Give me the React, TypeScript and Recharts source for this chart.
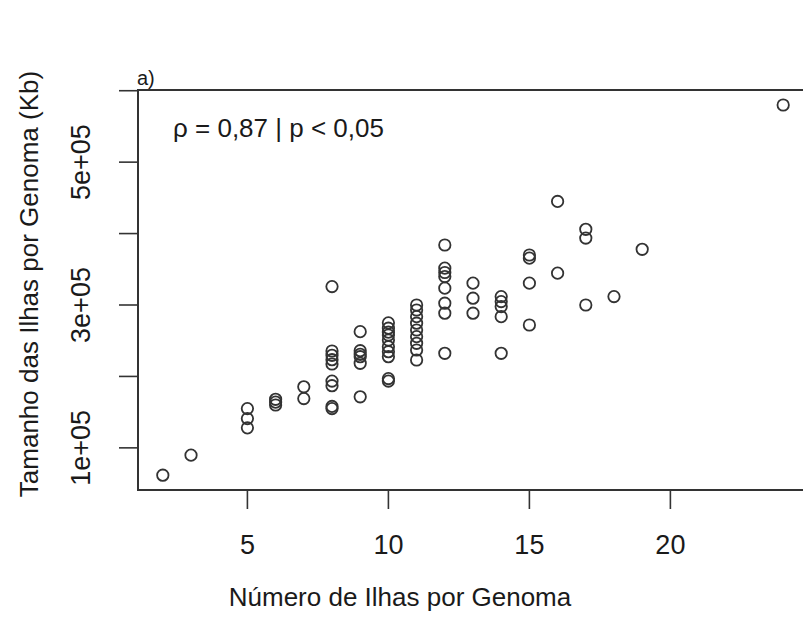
import React from 'react'
import { ScatterChart, Scatter, XAxis, YAxis, ReferenceArea } from 'recharts'

// número de ilhas (x) e tamanho total das ilhas em Kb (y), um par por genoma
const ISLANDS = [
  2, 3,
  5, 5, 5,
  6, 6, 6,
  7, 7,
  8, 8, 8, 8, 8, 8, 8, 8, 8,
  9, 9, 9, 9, 9, 9,
  10, 10, 10, 10, 10, 10, 10, 10, 10, 10,
  11, 11, 11, 11, 11, 11, 11, 11, 11,
  12, 12, 12, 12, 12, 12, 12, 12,
  13, 13, 13,
  14, 14, 14, 14, 14,
  15, 15, 15, 15,
  16, 16,
  17, 17, 17,
  18, 19, 24,
]

const SIZE_KB = [
  61700, 89800,
  155000, 141000, 128000,
  168000, 164000, 160000,
  185500, 169000,
  325800, 235600, 229600, 223400, 217400, 193500, 187000, 158000, 155000,
  262700, 236000, 231000, 227600, 218400, 171500,
  275000, 267500, 262000, 258000, 251000, 241600, 234600, 227600, 197000, 193500,
  300000, 293000, 283700, 274500, 265000, 255700, 246400, 237000, 223000,
  384000, 351600, 345500, 339800, 323600, 302500, 288500, 232400,
  330600, 309500, 288500,
  311800, 304800, 297800, 283700, 232400,
  370000, 365600, 330600, 272000,
  445000, 344600,
  406000, 393700, 300000,
  311800, 378000, 580000,
]

const X_TICKS = [5, 10, 15, 20]
const Y_TICKS = [100000, 200000, 300000, 400000, 500000, 600000]
const Y_LABELED = [100000, 300000, 500000]

const X_DOMAIN: [number, number] = [1.12, 24.88]
const Y_DOMAIN: [number, number] = [41000, 601000]

const FONT = '"Liberation Sans", Arial, sans-serif'
const INK = '#1a1a1a'

const data = ISLANDS.map((x, i) => ({ x, y: SIZE_KB[i] }))

const fmtY = (v: number) => (Y_LABELED.includes(v) ? `${v / 100000}e+05` : '')

const YTick = (props: any) => {
  const { x, y, payload } = props
  const tx = x - 27
  return (
    <text
      x={tx}
      y={y}
      transform={`rotate(-90, ${tx}, ${y})`}
      textAnchor="middle"
      fontSize={27}
      fontFamily={FONT}
      fill={INK}
    >
      {fmtY(payload.value)}
    </text>
  )
}

const Ring = (props: any) => (
  <circle cx={props.cx} cy={props.cy} r={5.7} fill="none" stroke="#333" strokeWidth={1.8} />
)

export default function App() {
  return (
    <div
      style={{
        position: 'absolute',
        left: 0,
        top: 0,
        width: 803,
        height: 627,
        overflow: 'hidden',
        background: '#fff',
      }}
    >
      <ScatterChart width={810} height={627} margin={{ top: 90, right: 2, bottom: 77, left: 0 }}>
        <XAxis
          type="number"
          dataKey="x"
          domain={X_DOMAIN}
          ticks={X_TICKS}
          allowDataOverflow
          height={60}
          axisLine={false}
          tickSize={19}
          tickMargin={26}
          tickLine={{ stroke: '#333', strokeWidth: 1.6 }}
          tick={{ fill: INK, fontSize: 27, fontFamily: FONT }}
        />
        <YAxis
          type="number"
          dataKey="y"
          domain={Y_DOMAIN}
          ticks={Y_TICKS}
          allowDataOverflow
          width={138}
          axisLine={false}
          tickSize={19}
          tickLine={{ stroke: '#333', strokeWidth: 1.6 }}
          tick={<YTick />}
        />
        <ReferenceArea
          x1={X_DOMAIN[0]}
          x2={X_DOMAIN[1]}
          y1={Y_DOMAIN[0]}
          y2={Y_DOMAIN[1]}
          fill="none"
          stroke="#333"
          strokeWidth={2}
        />
        <Scatter data={data} shape={<Ring />} isAnimationActive={false} />
      </ScatterChart>

      <svg
        width={803}
        height={627}
        style={{ position: 'absolute', left: 0, top: 0, pointerEvents: 'none' }}
        fontFamily={FONT}
        fill={INK}
      >
        <text x={137} y={85} fontSize={20}>a)</text>
        <text x={173} y={137} fontSize={26}>ρ = 0,87 | p &lt; 0,05</text>
        <text x={400} y={606} fontSize={26} textAnchor="middle">
          Número de Ilhas por Genoma
        </text>
        <text x={38} y={284} fontSize={26} textAnchor="middle" transform="rotate(-90, 38, 284)">
          Tamanho das Ilhas por Genoma (Kb)
        </text>
      </svg>
    </div>
  )
}
